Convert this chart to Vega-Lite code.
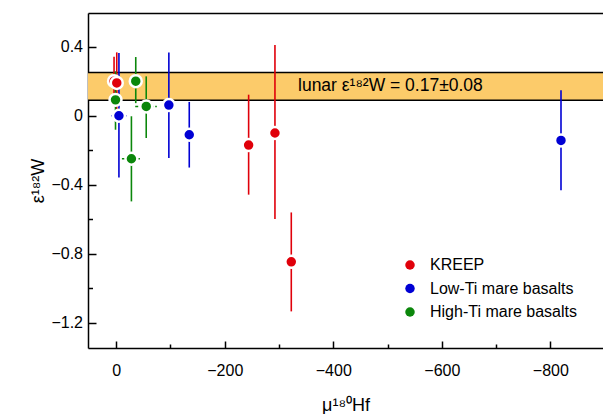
{
  "$schema": "https://vega.github.io/schema/vega-lite/v6.json",
  "width": 515,
  "height": 335,
  "autosize": {"type": "none"},
  "padding": {"left": 88, "top": 13, "right": 0, "bottom": 66},
  "background": "white",
  "config": {
    "view": {"stroke": null},
    "font": "Liberation Sans",
    "axis": {
      "grid": false,
      "domainColor": "black",
      "domainWidth": 1.5,
      "tickColor": "black",
      "tickWidth": 1.5,
      "labelColor": "black",
      "labelFontSize": 16,
      "labelFont": "Liberation Sans",
      "titleColor": "black",
      "titleFontSize": 18,
      "titleFontWeight": "normal",
      "titleFont": "Liberation Sans"
    }
  },
  "datasets": {
    "pts": [
      {"g": "KREEP", "x": 4, "y": 0.2, "ylo": 0.064, "yhi": 0.342},
      {"g": "KREEP", "x": -1, "y": 0.19, "ylo": 0.02, "yhi": 0.367},
      {"g": "KREEP", "x": -244, "y": -0.17, "ylo": -0.457, "yhi": 0.122},
      {"g": "KREEP", "x": -292.5, "y": -0.1, "ylo": -0.598, "yhi": 0.41},
      {"g": "KREEP", "x": -322.6, "y": -0.846, "ylo": -1.133, "yhi": -0.56},
      {"g": "Low-Ti mare basalts", "x": -5, "y": 0.0, "ylo": -0.357, "yhi": 0.363, "xlo": 8.7, "xhi": -19.6},
      {"g": "Low-Ti mare basalts", "x": -97, "y": 0.062, "ylo": -0.245, "yhi": 0.366},
      {"g": "Low-Ti mare basalts", "x": -134.6, "y": -0.11, "ylo": -0.3, "yhi": 0.08},
      {"g": "Low-Ti mare basalts", "x": -819.6, "y": -0.143, "ylo": -0.432, "yhi": 0.147},
      {"g": "High-Ti mare basalts", "x": 1.3, "y": 0.092, "ylo": -0.081, "yhi": 0.257},
      {"g": "High-Ti mare basalts", "x": -28, "y": -0.249, "ylo": -0.496, "yhi": -0.003, "xlo": -10.5, "xhi": -45.3},
      {"g": "High-Ti mare basalts", "x": -36, "y": 0.2, "ylo": 0.073, "yhi": 0.34},
      {"g": "High-Ti mare basalts", "x": -55.3, "y": 0.054, "ylo": -0.129, "yhi": 0.228, "xlo": -35, "xhi": -74.8}
    ],
    "band": [{"lo": 0.09, "hi": 0.25, "mid": 0.17, "x": -335, "label": "lunar ε¹⁸²W = 0.17±0.08"}],
    "bandEdges": [{"v": 0.09}, {"v": 0.25}]
  },
  "resolve": {"axis": {"x": "independent", "y": "independent"}, "legend": {"color": "independent"}},
  "layer": [
    {
      "data": {"name": "band"},
      "mark": {"type": "rect", "color": "#FCCB6A"},
      "encoding": {
        "y": {"field": "lo", "type": "quantitative", "axis": null,
              "scale": {"domain": [-1.345, 0.595], "nice": false, "zero": false}},
        "y2": {"field": "hi"}
      }
    },
    {
      "data": {"name": "bandEdges"},
      "mark": {"type": "rule", "color": "black", "strokeWidth": 1.5},
      "encoding": {
        "y": {"field": "v", "type": "quantitative", "axis": null}
      }
    },
    {
      "data": {"name": "band"},
      "mark": {"type": "text", "align": "left", "baseline": "middle", "fontSize": 17.5, "color": "black", "font": "Liberation Sans"},
      "encoding": {
        "x": {"field": "x", "type": "quantitative",
              "scale": {"domain": [-897, 52], "reverse": true, "nice": false, "zero": false},
              "axis": {"orient": "top", "labels": false, "ticks": false, "title": null, "domain": true}},
        "y": {"field": "mid", "type": "quantitative", "axis": null},
        "text": {"field": "label"}
      }
    },
    {
      "data": {"name": "pts"},
      "mark": {"type": "rule", "strokeWidth": 1.6},
      "encoding": {
        "x": {"field": "x", "type": "quantitative",
              "axis": {"orient": "bottom", "values": [-100, -300, -500, -700], "labels": false, "domain": false, "tickSize": -4, "title": null}},
        "y": {"field": "ylo", "type": "quantitative",
              "axis": {"orient": "left", "values": [0.2, -0.2, -0.6, -1.0], "labels": false, "domain": false, "tickSize": -4.5, "title": null}},
        "y2": {"field": "yhi"},
        "color": {"field": "g", "type": "nominal", "legend": null,
                  "scale": {"domain": ["KREEP", "Low-Ti mare basalts", "High-Ti mare basalts"], "range": ["#E0000A", "#0000D4", "#0B870B"]}}
      }
    },
    {
      "data": {"name": "pts"},
      "transform": [{"filter": "isValid(datum.xlo)"}],
      "mark": {"type": "rule", "strokeWidth": 1.5, "strokeDash": [3, 2]},
      "encoding": {
        "x": {"field": "xlo", "type": "quantitative", "axis": null},
        "x2": {"field": "xhi"},
        "y": {"field": "y", "type": "quantitative", "axis": null},
        "color": {"field": "g", "type": "nominal", "legend": null}
      }
    },
    {
      "data": {"name": "pts"},
      "mark": {"type": "point", "filled": true, "size": 143, "stroke": "white", "strokeWidth": 2.5, "opacity": 1},
      "encoding": {
        "x": {"field": "x", "type": "quantitative",
              "axis": {"orient": "bottom", "values": [0, -200, -400, -600, -800], "format": "d", "tickSize": -7, "labelPadding": 21,
                       "title": "μ¹⁸⁰Hf", "titleBaseline": "alphabetic", "titleY": 62.7}},
        "y": {"field": "y", "type": "quantitative",
              "axis": {"orient": "left", "values": [0.4, 0, -0.4, -0.8, -1.2], "format": ".2~g", "tickSize": -8, "labelPadding": 13.5,
                       "title": "ε¹⁸²W", "titleAngle": 270, "titleAlign": "center", "titleBaseline": "middle", "titleX": -50, "titleY": 167.5}},
        "color": {"field": "g", "type": "nominal",
                  "legend": {"orient": "none", "legendX": 314, "legendY": 244, "title": null, "labelFontSize": 16, "labelFont": "Liberation Sans", "labelColor": "black",
                             "symbolSize": 90, "symbolStrokeWidth": 0, "symbolType": "circle", "rowPadding": 7.5, "labelOffset": 12, "padding": 0}}
      }
    }
  ]
}
